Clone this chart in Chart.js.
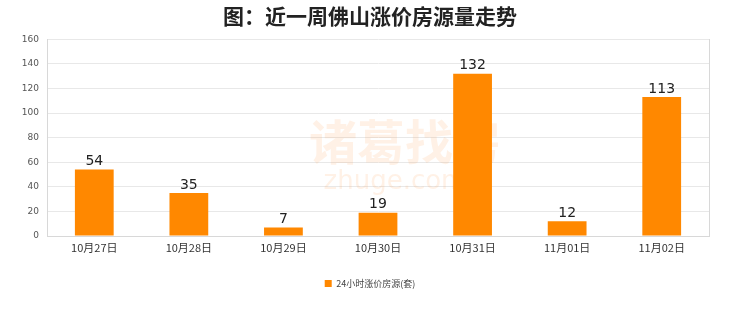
<!DOCTYPE html>
<html>
<head>
<meta charset="utf-8">
<script src="https://cdn.jsdelivr.net/npm/chart.js@4"></script>
<style>
  html, body { margin: 0; padding: 0; background: #fff; }
  #wrap { width: 740px; height: 312px; }
</style>
</head>
<body>
<div id="wrap"><canvas id="c"></canvas></div>
<script>
var days = ["10月27日", "10月28日", "10月29日", "10月30日", "10月31日", "11月01日", "11月02日"];
var rises = [54, 35, 7, 19, 132, 12, 113];
var seriesName = "24小时涨价房源(套)";
var chartTitle = "图：近一周佛山涨价房源量走势";

var cjk = "'Noto Sans CJK SC', 'Noto Sans', sans-serif";
var orange = "#ff8800";
var grid = "#e8e8e8";

// faint watermark behind the bars
var watermark = {
  id: "watermark",
  beforeDatasetsDraw: function (chart) {
    var ctx = chart.ctx;
    ctx.save();
    ctx.fillStyle = "rgba(255, 150, 60, 0.13)";
    ctx.textAlign = "center";
    ctx.textBaseline = "middle";
    ctx.font = "bold 48px " + cjk;
    ctx.fillText("诸葛找房", 405, 142);
    ctx.font = "26px 'DejaVu Sans', sans-serif";
    ctx.fillText("zhuge.com", 395, 182);
    ctx.restore();
  }
};

// value labels above each bar
var valueLabels = {
  id: "valueLabels",
  afterDatasetsDraw: function (chart) {
    var ctx = chart.ctx;
    var meta = chart.getDatasetMeta(0);
    ctx.save();
    ctx.fillStyle = "#222";
    ctx.font = "14px 'DejaVu Sans', sans-serif";
    ctx.textAlign = "center";
    ctx.textBaseline = "bottom";
    meta.data.forEach(function (bar, i) {
      ctx.fillText(String(rises[i]), bar.x, bar.y - 1);
    });
    ctx.restore();
  }
};

new Chart(document.getElementById("c"), {
  type: "bar",
  data: {
    labels: days,
    datasets: [
      {
        label: seriesName,
        data: rises,
        backgroundColor: orange,
        categoryPercentage: 1,
        barPercentage: 0.41
      }
    ]
  },
  options: {
    responsive: true,
    maintainAspectRatio: false,
    animation: false,
    layout: { padding: { left: 0, right: 0, top: 3, bottom: 14 } },
    plugins: {
      title: {
        display: true,
        text: chartTitle,
        color: "#222",
        font: { family: cjk, size: 21, weight: "bold" },
        padding: { top: 0, bottom: 11 }
      },
      legend: {
        position: "bottom",
        labels: {
          boxWidth: 7,
          boxHeight: 7,
          color: "#444",
          font: { family: cjk, size: 9 },
          padding: 10
        }
      },
      tooltip: { enabled: false }
    },
    scales: {
      x: {
        grid: { display: false },
        border: { color: "#d8d8d8" },
        ticks: { color: "#333", font: { family: cjk, size: 11 }, padding: -3 },
        afterFit: function (s) { s.height = 33; }
      },
      y: {
        min: 0,
        max: 160,
        ticks: { stepSize: 20, color: "#555", font: { family: "'DejaVu Sans', sans-serif", size: 9 }, padding: 8 },
        grid: { color: grid, drawTicks: false },
        border: { color: "#d8d8d8" },
        afterFit: function (s) { s.width = 47; }
      },
      y2: {
        position: "right",
        min: 0,
        max: 160,
        ticks: { display: false },
        grid: { display: false },
        border: { color: "#d8d8d8" },
        afterFit: function (s) { s.width = 31; }
      }
    }
  },
  plugins: [watermark, valueLabels]
});
</script>
</body>
</html>
